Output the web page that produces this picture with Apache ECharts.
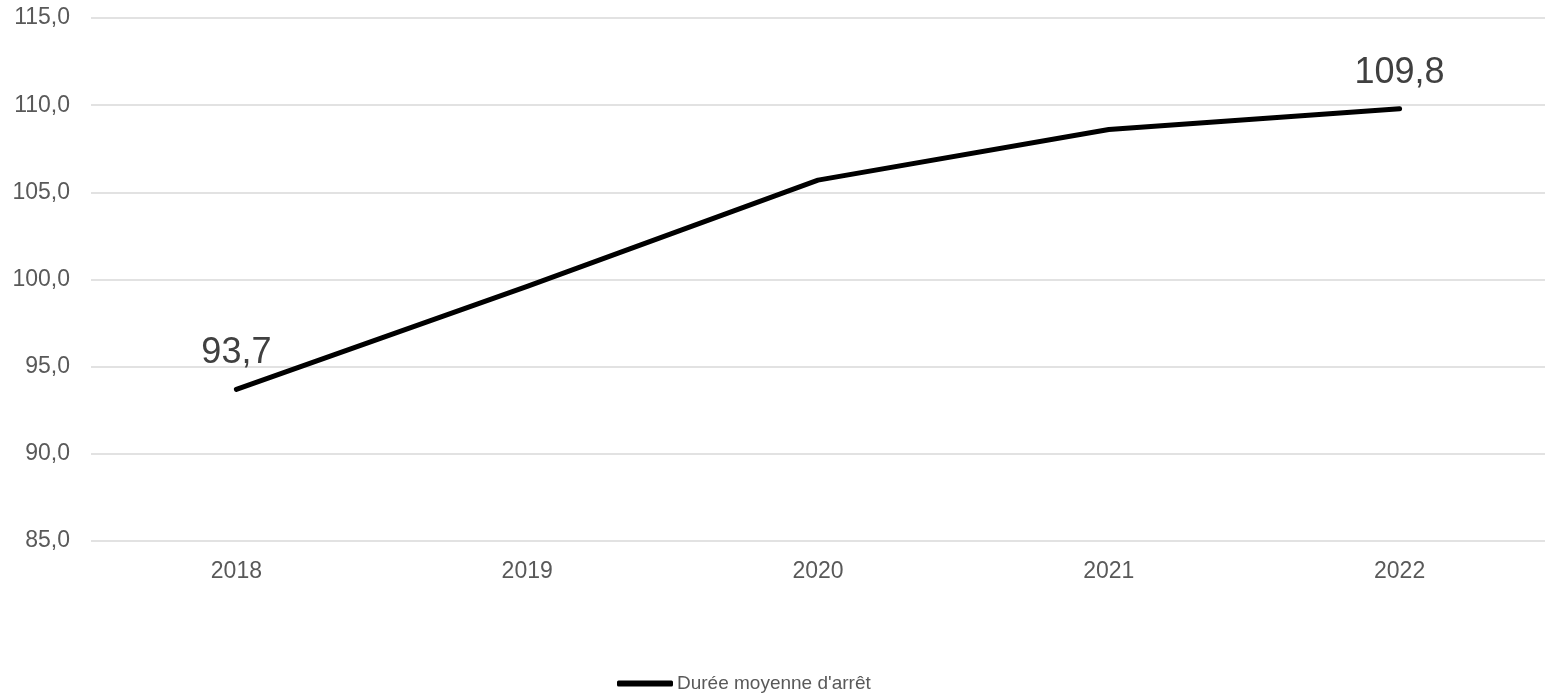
<!DOCTYPE html>
<html>
<head>
<meta charset="utf-8">
<script src="https://cdn.jsdelivr.net/npm/echarts@6/dist/echarts.min.js"></script>
<style>
html,body{margin:0;padding:0;background:#fff;}
#chart{width:1545px;height:694px;}
</style>
</head>
<body>
<div id="chart"></div>
<script>
const categories = ['2018', '2019', '2020', '2021', '2022'];
const values = [93.7, 99.6, 105.7, 108.6, 109.8];
const labelledIndices = [0, 4];
const seriesName = "Durée moyenne d'arrêt";

const fmt = v => Number(v).toFixed(1).replace('.', ',');
const chart = echarts.init(document.getElementById('chart'));
chart.setOption({
  animation: false,
  backgroundColor: '#ffffff',
  textStyle: { fontFamily: 'Liberation Sans, Arial, sans-serif' },
  grid: { left: 91, top: 18, width: 1462, bottom: 153, containLabel: false },
  xAxis: {
    type: 'category',
    data: categories,
    boundaryGap: true,
    axisLine: { show: false },
    axisTick: { show: false },
    axisLabel: { color: '#595959', fontSize: 23, margin: 19 }
  },
  yAxis: {
    type: 'value',
    min: 85, max: 115, interval: 5,
    axisLine: { show: false },
    axisTick: { show: false },
    splitLine: { lineStyle: { color: '#d9d9d9', width: 1.5 } },
    axisLabel: { color: '#595959', fontSize: 23, margin: 21, formatter: v => fmt(v) }
  },
  legend: {
    top: 669,
    left: 612,
    itemWidth: 56,
    itemHeight: 6,
    itemGap: 0,
    icon: 'roundRect',
    textStyle: { color: '#595959', fontSize: 19, padding: [0,0,0,-1] },
    data: [seriesName]
  },
  series: [{
    name: seriesName,
    type: 'line',
    data: values.map((v, i) => ({
      value: v,
      label: { show: labelledIndices.includes(i) }
    })),
    showSymbol: true,
    symbol: 'circle',
    symbolSize: 0.1,
    lineStyle: { color: '#000000', width: 5, cap: 'round', join: 'round' },
    itemStyle: { color: '#000000' },
    label: {
      show: false,
      position: 'top',
      distance: 18,
      color: '#404040',
      fontSize: 36,
      formatter: p => fmt(p.value)
    }
  }]
});
</script>
</body>
</html>
